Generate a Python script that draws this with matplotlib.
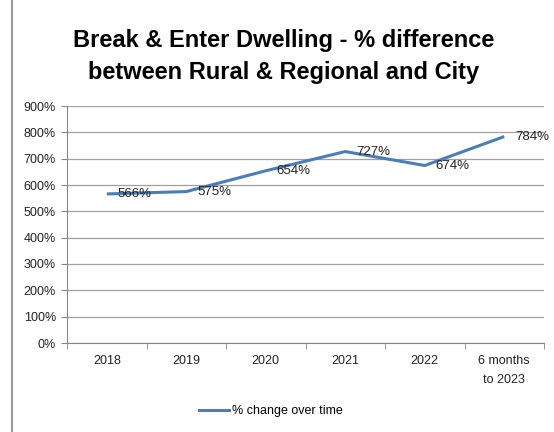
import matplotlib.pyplot as plt
from matplotlib.lines import Line2D

# Data
categories = ["2018", "2019", "2020", "2021", "2022", "6 months\nto 2023"]
values = [566, 575, 654, 727, 674, 784]
labels = ["566%", "575%", "654%", "727%", "674%", "784%"]
yticks = [0, 100, 200, 300, 400, 500, 600, 700, 800, 900]

plt.rcParams['font.family'] = ['Liberation Sans', 'DejaVu Sans']

fig = plt.figure(figsize=(5.54, 4.32), dpi=100)
ax = fig.add_axes([67 / 554, 1 - 343 / 432, (544 - 67) / 554, (343 - 106) / 432])

x = list(range(len(categories)))
ax.plot(x, values, color='#4A7EBB', linewidth=2.2, solid_capstyle='butt')

for xi, v, lab in zip(x, values, labels):
    ax.annotate(lab, (xi, v), xytext=(8, 0), textcoords='offset points',
                ha='left', va='center', fontsize=9.5, color='#222222')

ax.set_xlim(-0.5, len(categories) - 0.5)
ax.set_ylim(0, 900)
ax.set_yticks(yticks)
ax.set_yticklabels([f"{t}%" for t in yticks], fontsize=9, color='#222222')
ax.set_xticks(x)
ax.set_xticklabels(categories, fontsize=9, color='#222222', linespacing=1.7)
ax.set_xticks([i - 0.5 for i in range(len(categories) + 1)], minor=True)
ax.tick_params(axis='x', which='major', length=0, pad=9)
ax.tick_params(axis='x', which='minor', length=4, color='#868686')
ax.tick_params(axis='y', length=4, color='#868686', pad=4)

ax.grid(axis='y', color='#A0A0A0', linewidth=0.9)
ax.set_axisbelow(True)
for s in ['top', 'right']:
    ax.spines[s].set_visible(False)
ax.spines['left'].set_color('#868686')
ax.spines['bottom'].set_color('#868686')

fig.text(284 / 554, 1 - 40 / 432, "Break & Enter Dwelling - % difference",
         ha='center', va='center', fontsize=17, fontweight='bold')
fig.text(284 / 554, 1 - 72 / 432, "between Rural & Regional and City",
         ha='center', va='center', fontsize=17, fontweight='bold')

handle = Line2D([], [], color='#4A7EBB', linewidth=2.2)
fig.legend([handle], ["% change over time"], loc='center',
           bbox_to_anchor=(271 / 554, 1 - 411 / 432), frameon=False,
           fontsize=9, handlelength=2.4, handletextpad=0.2)

# left chart border
fig.add_artist(Line2D([12 / 554, 12 / 554], [0, 1], color='#9A9A9A', linewidth=1.5))

plt.savefig("out.png", dpi=100)
